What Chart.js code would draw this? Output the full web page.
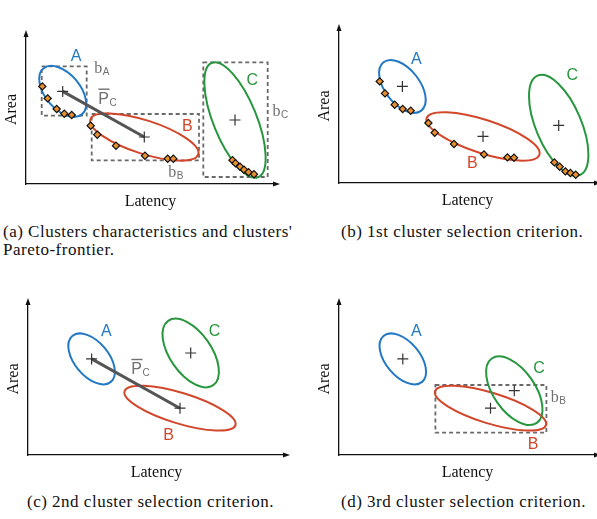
<!DOCTYPE html>
<html>
<head>
<meta charset="utf-8">
<script src="https://cdn.jsdelivr.net/npm/chart.js@4.4.1/dist/chart.umd.min.js"></script>
<style>
  html, body { margin: 0; padding: 0; background: #fff; overflow: hidden; }
  body { width: 597px; height: 519px; position: relative; }
  canvas { position: absolute; }
  .caption {
    position: absolute;
    font-family: 'Liberation Serif', serif;
    font-size: 17px;
    letter-spacing: 0.5px;
    line-height: 18px;
    color: #111;
    white-space: nowrap;
  }
</style>
</head>
<body>
<canvas id="chartA"></canvas>
<canvas id="chartB"></canvas>
<canvas id="chartC"></canvas>
<canvas id="chartD"></canvas>
<div class="caption" style="left:3px; top:223px">(a) Clusters characteristics and clusters'<br>Pareto-frontier.</div>
<div class="caption" style="left:341px; top:223px">(b) 1st cluster selection criterion.</div>
<div class="caption" style="left:27px; top:493px">(c) 2nd cluster selection criterion.</div>
<div class="caption" style="left:341px; top:493px">(d) 3rd cluster selection criterion.</div>

<script>
// Dữ liệu (đơn vị tuỳ ý: latency, area)
const clusterNames = ['A', 'B', 'C'];
const latencyMax = [249, 257, 257, 257];
const areaMax = [149, 154, 152, 152];

// (a) tâm cụm, bán trục [a, b, góc], Pareto, hộp bao
const aCenters = [[36.7, 92.6], [118.3, 47], [209, 64]];
const aSpread = [[30, 17.5, -50], [56.7, 16.7, -18], [61.7, 21.7, -68]];
const aParetoA = [[16.3, 97.6], [21.7, 85.6], [30.7, 75], [38.3, 70.3], [45.7, 69]];
const aParetoB = [[64.7, 58.3], [71.3, 49.3], [90, 38.3], [119, 28.3], [141.7, 25.3], [147.3, 25.3]];
const aParetoC = [[206.5, 23.8], [209.5, 20.8], [214, 17.3], [218, 14.3], [222.5, 11.8], [228, 9.8]];
const aBoxes = [[15.7, 60.7, 68.3, 117.6], [65.7, 173, 23.6, 70], [177.3, 241.7, 7, 121.6]];

// (b)
const bCenters = [[63.4, 96.6], [144, 46.6], [219.7, 57.6]];
const bSpread = [[30.7, 17.3, -52], [59.3, 16.7, -18], [54, 22.7, -67]];
const bParetoA = [[40.7, 101.6], [46, 89.6], [55.7, 78.3], [63.7, 74], [71.7, 72.3]];
const bParetoB = [[89.4, 60], [95.7, 50.3], [115, 39], [145, 28.6], [168.4, 25.6], [175, 25.3]];
const bParetoC = [[215.4, 20.6], [220.7, 16.3], [226.4, 11.6], [231.4, 10], [236.7, 8.3]];

// (c)
const cCenters = [[63.6, 96.1], [152, 46.8], [162.7, 102]];
const cSpread = [[30, 17, -50], [58, 15.3, -17], [39.3, 20.7, -55]];

// (d)
const dCenters = [[63.8, 96.1], [151.5, 46.8], [175.3, 64.3]];
const dSpread = [[30, 17, -50], [58, 15.3, -17], [39.3, 20.7, -55]];
const dBoxB = [96.4, 207.4, 22.3, 70];

const clusterColors = ['#2378c3', '#d2462a', '#27963f'];
const paretoFill = '#e8902f';
const boxColor = '#6a6a6a';
const linkColor = '#555555';
const labelGray = '#707070';

const toXY = arr => arr.map(p => ({ x: p[0], y: p[1] }));

function drawSubLabel(ctx, x, y, main, sub, mainFont, bar) {
    ctx.font = mainFont;
    const w1 = ctx.measureText(main).width;
    ctx.font = '10px "Liberation Sans"';
    const w2 = ctx.measureText(sub).width;
    const x0 = x - (w1 + w2) / 2;
    ctx.textAlign = 'left';
    ctx.textBaseline = 'alphabetic';
    ctx.font = mainFont;
    ctx.fillText(main, x0, y + 5.5);
    if (bar) ctx.fillRect(x0, y - 9.5, w1 + 0.5, 1.4);
    ctx.font = '10px "Liberation Sans"';
    ctx.fillText(sub, x0 + w1 + 0.5, y + 8);
}

function makePlugin(cfg) {
    return {
        id: 'clusterShapes',
        beforeDatasetsDraw(chart) {
            const ctx = chart.ctx;
            const xs = chart.scales.x, ys = chart.scales.y;

            // Hộp bao nét đứt
            ctx.save();
            ctx.strokeStyle = boxColor;
            ctx.lineWidth = 1.8;
            ctx.setLineDash([4, 3]);
            (cfg.boxes || []).forEach(b => {
                const x1 = xs.getPixelForValue(b[0]), x2 = xs.getPixelForValue(b[1]);
                const y1 = ys.getPixelForValue(b[2]), y2 = ys.getPixelForValue(b[3]);
                ctx.strokeRect(x1, y2, x2 - x1, y1 - y2);
            });
            ctx.restore();

            // Ellipse của từng cụm
            cfg.centers.forEach((c, i) => {
                const s = cfg.spread[i];
                const px = xs.getPixelForValue(c[0]), py = ys.getPixelForValue(c[1]);
                const kx = xs.getPixelForValue(c[0] + 1) - px;
                const ky = ys.getPixelForValue(c[1] + 1) - py;
                ctx.save();
                ctx.translate(px, py);
                ctx.transform(kx, 0, 0, ky, 0, 0);
                ctx.rotate(s[2] * Math.PI / 180);
                ctx.beginPath();
                ctx.ellipse(0, 0, s[0], s[1], 0, 0, Math.PI * 2);
                ctx.restore();
                ctx.save();
                ctx.strokeStyle = clusterColors[i];
                ctx.lineWidth = 2;
                ctx.stroke();
                ctx.restore();
            });
        },
        afterDraw(chart) {
            const ctx = chart.ctx;
            const xs = chart.scales.x, ys = chart.scales.y;
            const area = chart.chartArea;

            // Mũi tên trục
            ctx.save();
            ctx.fillStyle = '#111';
            ctx.beginPath();
            ctx.moveTo(area.left, area.top - 5);
            ctx.lineTo(area.left - 2.5, area.top + 2);
            ctx.lineTo(area.left + 2.5, area.top + 2);
            ctx.closePath();
            ctx.fill();
            ctx.beginPath();
            ctx.moveTo(area.right + 5, area.bottom);
            ctx.lineTo(area.right - 2, area.bottom - 2.5);
            ctx.lineTo(area.right - 2, area.bottom + 2.5);
            ctx.closePath();
            ctx.fill();

            // Nhãn cụm và chú thích
            cfg.labels.forEach(l => {
                const x = xs.getPixelForValue(l.at[0]);
                const y = ys.getPixelForValue(l.at[1]);
                if (l.kind === 'name') {
                    ctx.fillStyle = l.color;
                    ctx.font = '16px "Liberation Sans"';
                    ctx.textAlign = 'center';
                    ctx.textBaseline = 'middle';
                    ctx.fillText(l.text, x, y);
                } else if (l.kind === 'box') {
                    ctx.fillStyle = labelGray;
                    drawSubLabel(ctx, x, y, 'b', l.text, '16px "Liberation Serif"', false);
                } else {
                    ctx.fillStyle = labelGray;
                    drawSubLabel(ctx, x, y, 'P', 'C', '16px "Liberation Sans"', true);
                }
            });
            ctx.restore();
        }
    };
}

function buildPanel(id, box, idx, cfg) {
    const canvas = document.getElementById(id);
    const w = box.right - box.left + 46;
    const h = box.bottom - box.top + 42;
    canvas.width = w;
    canvas.height = h;
    canvas.style.left = (box.left - 26) + 'px';
    canvas.style.top = (box.top - 12) + 'px';

    const datasets = [{
        label: 'Tâm cụm',
        data: toXY(cfg.centers),
        pointStyle: 'cross',
        pointRadius: 5.5,
        borderColor: '#333',
        borderWidth: 1.2
    }];
    (cfg.pareto || []).forEach((pts, i) => {
        datasets.push({
            label: 'Pareto ' + clusterNames[i],
            data: toXY(pts),
            pointStyle: 'rectRot',
            pointRadius: 3.6,
            backgroundColor: paretoFill,
            borderColor: '#111',
            borderWidth: 1.2
        });
    });
    if (cfg.link) {
        datasets.push({
            type: 'line',
            label: 'Pc',
            data: toXY([cfg.centers[0], cfg.centers[1]]),
            borderColor: linkColor,
            borderWidth: 3,
            pointRadius: 0,
            showLine: true
        });
    }

    const titleFont = { family: 'Liberation Serif', size: 16 };
    new Chart(canvas.getContext('2d'), {
        type: 'scatter',
        data: { datasets },
        options: {
            responsive: false,
            animation: false,
            layout: { padding: { left: 0.4, top: 12, right: 20, bottom: 0.4 } },
            plugins: { legend: { display: false }, tooltip: { enabled: false } },
            scales: {
                x: {
                    type: 'linear', min: 0, max: latencyMax[idx],
                    ticks: { display: false },
                    grid: { display: false, drawTicks: false },
                    border: { display: true, color: '#111', width: 1.3 },
                    title: { display: true, text: 'Latency', color: '#111', font: titleFont, padding: { top: 8.4, bottom: 2 } }
                },
                y: {
                    type: 'linear', min: 0, max: areaMax[idx],
                    ticks: { display: false },
                    grid: { display: false, drawTicks: false },
                    border: { display: true, color: '#111', width: 1.3 },
                    title: { display: true, text: 'Area', color: '#111', font: titleFont, padding: { top: 2, bottom: 4.4 } }
                }
            }
        },
        plugins: [makePlugin(cfg)]
    });
}

buildPanel('chartA', { left: 26, top: 35, right: 275, bottom: 184 }, 0, {
    centers: aCenters, spread: aSpread,
    pareto: [aParetoA, aParetoB, aParetoC],
    boxes: aBoxes, link: true,
    labels: [
        { kind: 'name', text: 'A', color: clusterColors[0], at: [50, 127.6] },
        { kind: 'name', text: 'B', color: clusterColors[1], at: [161.3, 57] },
        { kind: 'name', text: 'C', color: clusterColors[2], at: [226.3, 103.6] },
        { kind: 'box', text: 'A', at: [75.7, 116.6] },
        { kind: 'box', text: 'B', at: [149.7, 12.6] },
        { kind: 'box', text: 'C', at: [254, 73.6] },
        { kind: 'pc', at: [81.3, 86] }
    ]
});

buildPanel('chartB', { left: 339, top: 29, right: 596, bottom: 183 }, 1, {
    centers: bCenters, spread: bSpread,
    pareto: [bParetoA, bParetoB, bParetoC],
    labels: [
        { kind: 'name', text: 'A', color: clusterColors[0], at: [77.4, 123.3] },
        { kind: 'name', text: 'B', color: clusterColors[1], at: [133.4, 19.3] },
        { kind: 'name', text: 'C', color: clusterColors[2], at: [233.4, 107.3] }
    ]
});

buildPanel('chartC', { left: 28, top: 303, right: 285, bottom: 455 }, 2, {
    centers: cCenters, spread: cSpread, link: true,
    labels: [
        { kind: 'name', text: 'A', color: clusterColors[0], at: [78.3, 123.3] },
        { kind: 'name', text: 'B', color: clusterColors[1], at: [140.6, 19.3] },
        { kind: 'name', text: 'C', color: clusterColors[2], at: [186.6, 123.3] },
        { kind: 'pc', at: [112.3, 86.7] }
    ]
});

buildPanel('chartD', { left: 339, top: 303, right: 596, bottom: 455 }, 3, {
    centers: dCenters, spread: dSpread,
    boxes: [dBoxB],
    labels: [
        { kind: 'name', text: 'A', color: clusterColors[0], at: [77.4, 123.3] },
        { kind: 'name', text: 'C', color: clusterColors[2], at: [200, 86] },
        { kind: 'name', text: 'B', color: clusterColors[1], at: [194, 10] },
        { kind: 'box', text: 'B', at: [219, 59] }
    ]
});
</script>
</body>
</html>
